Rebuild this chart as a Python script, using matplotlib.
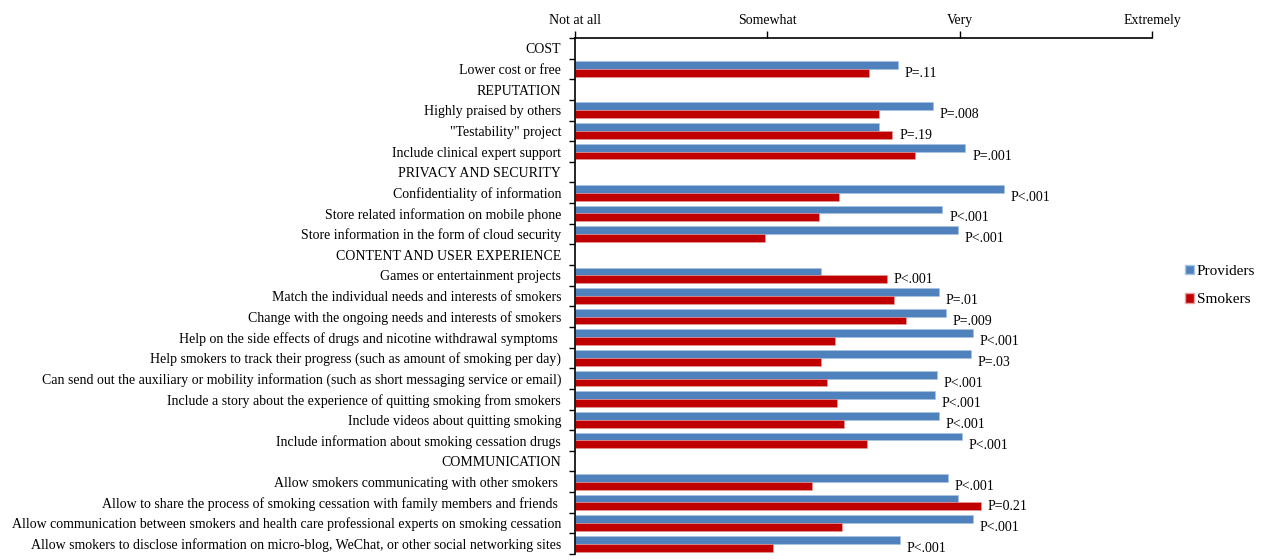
import numpy as np
import matplotlib
matplotlib.use('Agg')
import matplotlib.pyplot as plt
from matplotlib.patches import Patch

plt.rcParams['font.family'] = ['Liberation Serif', 'DejaVu Serif']

# rows from top to bottom, headers have no bars
items = ['COST',
         'Lower cost or free',
         'REPUTATION',
         'Highly praised by others',
         '"Testability" project',
         'Include clinical expert support',
         'PRIVACY AND SECURITY',
         'Confidentiality of information',
         'Store related information on mobile phone',
         'Store information in the form of cloud security',
         'CONTENT AND USER EXPERIENCE',
         'Games or entertainment projects',
         'Match the individual needs and interests of smokers',
         'Change with the ongoing needs and interests of smokers',
         'Help on the side effects of drugs and nicotine withdrawal symptoms ',
         'Help smokers to track their progress (such as amount of smoking per day)',
         'Can send out the auxiliary or mobility information (such as short messaging service or email)',
         'Include a story about the experience of quitting smoking from smokers',
         'Include videos about quitting smoking',
         'Include information about smoking cessation drugs',
         'COMMUNICATION',
         'Allow smokers communicating with other smokers ',
         'Allow to share the process of smoking cessation with family members and friends ',
         'Allow communication between smokers and health care professional experts on smoking cessation',
         'Allow smokers to disclose information on micro-blog, WeChat, or other social networking sites']

nan = np.nan
providers = [nan, 2.68, nan, 2.86, 2.58, 3.03, nan, 3.23, 2.91, 2.99, nan,
             2.28, 2.89, 2.93, 3.07, 3.06, 2.88, 2.87, 2.89, 3.01, nan,
             2.94, 2.99, 3.07, 2.69]
smokers = [nan, 2.53, nan, 2.58, 2.65, 2.77, nan, 2.37, 2.27, 1.99, nan,
           2.62, 2.66, 2.72, 2.35, 2.28, 2.31, 2.36, 2.40, 2.52, nan,
           2.23, 3.11, 2.39, 2.03]
pvals = ['', 'P=.11', '', 'P=.008', 'P=.19', 'P=.001', '', 'P<.001', 'P<.001', 'P<.001', '',
         'P<.001', 'P=.01', 'P=.009', 'P<.001', 'P=.03', 'P<.001', 'P<.001', 'P<.001', 'P<.001', '',
         'P<.001', 'P=0.21', 'P<.001', 'P<.001']

scale_pos = [1, 2, 3, 4]
scale_labels = ['Not at all', 'Somewhat', 'Very', 'Extremely']

blue = '#4F81BD'
red = '#C00000'

fig = plt.figure(figsize=(12.66, 5.6), dpi=100)
ax = fig.add_axes([0.4542, 0.0107, 0.4558, 0.9214])

y = np.arange(len(items))
prov = np.array(providers)
smok = np.array(smokers)
h = 0.38
ax.barh(y - h / 2, prov - 1, left=1, height=h, color=blue, edgecolor='#a8c4e6', linewidth=0.4)
ax.barh(y + h / 2, smok - 1, left=1, height=h, color=red, edgecolor='#e6a0a0', linewidth=0.4)

for i, p in enumerate(pvals):
    if p:
        xmax = np.nanmax([prov[i], smok[i]])
        ax.text(xmax + 0.035, y[i] + 0.22, p, ha='left', va='center', fontsize=10)

ax.set_xlim(1, 4)
ax.set_ylim(len(items) - 0.5, -0.5)
ax.xaxis.tick_top()
ax.set_xticks(scale_pos)
ax.set_xticklabels(scale_labels, fontsize=10)
ax.tick_params(axis='x', direction='out', length=5, width=1, pad=3)
ax.set_yticks(y)
ax.set_yticklabels(items, fontsize=10)
ax.set_yticks(np.arange(len(items) + 1) - 0.5, minor=True)
ax.tick_params(axis='y', which='major', length=0, pad=10)
ax.tick_params(axis='y', which='minor', direction='out', length=4, width=1)

for s in ['right', 'bottom']:
    ax.spines[s].set_visible(False)
ax.spines['left'].set_linewidth(1.2)
ax.spines['top'].set_linewidth(1.2)

handles = [Patch(facecolor=blue, edgecolor='#a8c4e6'), Patch(facecolor=red, edgecolor='#e6a0a0')]
fig.legend(handles, ['Providers', 'Smokers'], loc='center left',
           bbox_to_anchor=(0.925, 0.49), frameon=False, fontsize=11,
           handlelength=0.6, handleheight=0.6, handletextpad=0.2, labelspacing=1.0)

fig.savefig('out.png', dpi=100)
